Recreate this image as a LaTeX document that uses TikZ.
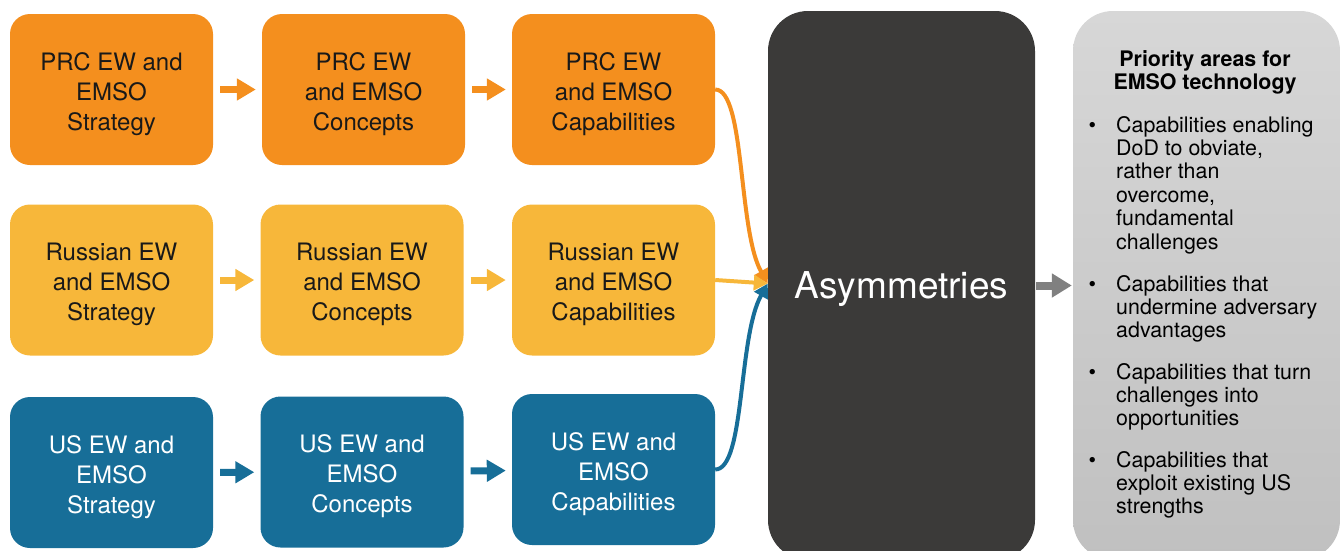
\documentclass[tikz,border=0pt]{standalone}
\usepackage{fontspec}
\setmainfont{TeX Gyre Heros}
\usepackage{tikz}
\usetikzlibrary{arrows.meta}

\definecolor{prcorange}{HTML}{F48F1E}
\definecolor{rusyellow}{HTML}{F7B73A}
\definecolor{usblue}{HTML}{176E98}
\definecolor{asymdark}{HTML}{3B3A39}
\definecolor{arrowgray}{HTML}{808080}
\definecolor{paneltop}{HTML}{D7D7D7}
\definecolor{panelbot}{HTML}{C0C0C0}

\tikzset{
  stage/.style={rounded corners=20pt, minimum width=203pt, minimum height=151pt,
    align=center, inner sep=0pt, text height=86pt, text depth=5pt,
    font=\fontsize{24}{30}\selectfont},
  prc/.style={stage, fill=prcorange, text=black!90},
  rus/.style={stage, fill=rusyellow, text=black!90},
  us/.style={stage, fill=usblue, text=white},
  hop/.style={line width=7pt, -{Triangle[length=19pt,width=21pt]},
    shorten <=7pt, shorten >=6pt},
  feed/.style={line width=4pt, -{Triangle[length=14pt,width=15pt]}},
  point/.style={anchor=north west, align=left, inner sep=0pt,
    font=\fontsize{21.4}{23.4}\selectfont},
}

\begin{document}
\begin{tikzpicture}[x=1pt, y=1pt]

\useasboundingbox (0,0) rectangle (1342,-550);

% PRC row
\node[prc] (prcstrat) at (111.5,-89.5) {PRC EW and\\EMSO\\Strategy};
\node[prc] (prcconc) at (363.5,-89.5) {PRC EW\\and EMSO\\Concepts};
\node[prc] (prccap) at (613.5,-89.5) {PRC EW\\and EMSO\\Capabilities};

% Russian row
\node[rus] (russtrat) at (111.5,-280) {Russian EW\\and EMSO\\Strategy};
\node[rus] (rusconc) at (362,-280) {Russian EW\\and EMSO\\Concepts};
\node[rus] (ruscap) at (613.5,-280) {Russian EW\\and EMSO\\Capabilities};

% US row
\node[us] (usstrat) at (111.5,-472.5) {US EW and\\EMSO\\Strategy};
\node[us] (usconc) at (362,-472) {US EW and\\EMSO\\Concepts};
\node[us] (uscap) at (613.5,-469.5) {US EW and\\EMSO\\Capabilities};

\draw[hop, prcorange] (prcstrat) -- (prcconc);
\draw[hop, prcorange] (prcconc) -- (prccap);
\draw[hop, rusyellow] (russtrat) -- (rusconc);
\draw[hop, rusyellow] (rusconc) -- (ruscap);
\draw[hop, usblue] (usstrat) -- (usconc);
\draw[hop, usblue] (usconc) -- (uscap);

% asymmetries
\node[fill=asymdark, rounded corners=40pt, minimum width=267pt, minimum height=549pt,
  text=white, text height=33pt, text depth=8pt,
  font=\fontsize{37}{40}\selectfont] (asym) at (901.5,-285.5) {Asymmetries};
\coordinate (hub) at ([yshift=2pt]asym.west);

\draw[feed, prcorange] (prccap.east) .. controls +(30,0) and +(-30,53) .. (hub);
\draw[feed, rusyellow] (ruscap.east) -- (hub);
\draw[feed, usblue] (uscap.east) .. controls +(30,0) and +(-30,-53) .. (hub);

% priority areas
\node[top color=paneltop, bottom color=panelbot, rounded corners=40pt,
  minimum width=267pt, minimum height=549pt] (panel) at (1206.5,-285.5) {};

\draw[line width=8pt, arrowgray, -{Triangle[length=20pt,width=23pt]},
  shorten <=1pt, shorten >=1pt] (asym) -- (panel);

\node[align=center, font=\bfseries\fontsize{21.4}{23}\selectfont] (ptitle) at (1205,-72)
  {Priority areas for\\EMSO technology};

\node[point] (obviate) at (1116,-116) {\llap{\textbullet\hspace{20pt}}Capabilities enabling\\DoD to obviate,\\rather than\\overcome,\\fundamental\\challenges};
\node[point] (undermine) at (1116,-275) {\llap{\textbullet\hspace{20pt}}Capabilities that\\undermine adversary\\advantages};
\node[point] (turn) at (1116,-363) {\llap{\textbullet\hspace{20pt}}Capabilities that turn\\challenges into\\opportunities};
\node[point] (exploit) at (1116,-451) {\llap{\textbullet\hspace{20pt}}Capabilities that\\exploit existing US\\strengths};

\end{tikzpicture}
\end{document}
